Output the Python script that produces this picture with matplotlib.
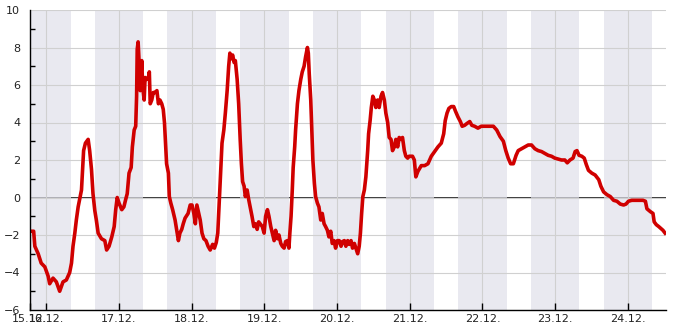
"""Air temperature, 15.12. - 24.12., with night periods shaded."""

import pandas as pd
import matplotlib
matplotlib.use("Agg")
import matplotlib.pyplot as plt
import matplotlib.dates as mdates
from matplotlib.ticker import MultipleLocator, FixedLocator

# hours since 15.12. 00:00 and temperature (°C)
hours = [
    18.6, 19.8, 20.2, 21.3, 22.3, 23.5, 24.6, 25.1, 26.2, 27.3, 28.4, 29.5, 30.6,
    31.7, 32.3, 32.8, 33.4, 33.9, 34.5, 35.0, 35.6, 35.9, 36.3, 36.9, 37.8, 38.3,
    38.9, 39.4, 40.0, 40.5, 41.1, 42.2, 43.3, 43.9, 44.7, 45.6, 46.4, 46.9, 47.4,
    48.0, 48.9, 49.6, 50.2, 50.7, 51.3, 52.0, 52.4, 53.0, 53.5, 53.8, 54.0, 54.3,
    54.7, 55.0, 55.5, 55.8, 56.3, 56.6, 57.1, 57.7, 58.0, 58.3, 58.8, 59.3, 59.9,
    60.5, 61.0, 61.5, 62.1, 62.6, 63.0, 63.3, 63.7, 64.3, 64.6, 65.1, 65.7, 66.5,
    67.0, 67.6, 68.1, 68.7, 69.2, 69.8, 70.8, 71.5, 72.1, 72.7, 73.2, 73.7, 74.3,
    74.8, 75.4, 76.0, 76.7, 77.4, 78.1, 78.9, 79.5, 80.1, 80.6, 80.9, 81.2, 81.6,
    82.0, 82.6, 83.1, 83.7, 84.2, 84.6, 85.1, 85.5, 86.0, 86.4, 87.0, 87.5, 88.0,
    88.4, 88.8, 89.3, 89.7, 90.3, 90.8, 91.3, 91.9, 92.5, 93.0, 93.6, 94.1, 95.3,
    95.9, 96.4, 97.0, 97.5, 98.1, 98.6, 99.2, 99.7, 100.3, 100.8, 101.4, 101.9,
    102.5, 103.0, 103.6, 104.1, 104.4, 104.8, 105.2, 105.5, 106.0, 106.3, 106.9,
    107.4, 108.0, 108.5, 109.1, 109.6, 110.2, 110.5, 110.8, 111.3, 111.6, 112.0,
    112.5, 112.9, 113.5, 114.0, 114.6, 115.1, 115.7, 116.2, 116.8, 117.3, 117.9,
    118.4, 119.0, 119.5, 120.1, 120.7, 121.3, 121.8, 122.4, 122.9, 123.5, 124.0,
    124.6, 125.1, 125.7, 126.2, 126.8, 127.3, 127.7, 128.1, 128.5, 129.0, 129.5,
    130.1, 130.4, 130.9, 131.3, 131.8, 132.3, 132.8, 133.4, 133.9, 134.5, 135.0,
    135.6, 136.1, 136.7, 137.2, 137.8, 138.3, 138.9, 139.4, 140.0, 140.5, 141.1,
    141.6, 142.2, 142.7, 143.3, 143.8, 144.9, 145.5, 146.0, 146.7, 147.8, 148.9,
    150.0, 151.1, 152.2, 153.3, 154.4, 155.2, 155.7, 156.3, 156.9, 157.7, 158.5,
    159.1, 159.9, 160.7, 161.3, 162.1, 162.9, 163.8, 164.5, 165.4, 166.5, 167.6,
    168.7, 169.8, 170.9, 171.6, 172.7, 173.8, 174.9, 175.7, 176.5, 177.3, 178.2,
    179.1, 179.8, 180.9, 182.0, 183.1, 184.2, 185.3, 186.4, 187.5, 188.6, 189.7,
    190.8, 191.9, 193.0, 194.1, 195.2, 196.0, 196.9, 197.9, 198.6, 199.2, 199.9,
    200.8, 201.6, 202.3, 203.0, 204.1, 205.2, 206.4, 207.1, 208.0, 209.1, 210.2,
    211.3, 212.4, 213.5, 214.6, 215.4, 216.2, 217.3, 218.4, 219.6, 221.0, 221.8,
    222.3, 223.4, 224.3, 224.7, 225.4, 226.2, 226.9, 227.6, 228.3,
]
temp = [
    -1.8, -1.8, -2.6, -3.0, -3.5, -3.7, -4.2, -4.6, -4.3, -4.5, -5.0, -4.5, -4.4,
    -4.0, -3.5, -2.6, -1.9, -1.2, -0.5, -0.1, 0.4, 1.3, 2.5, 2.9, 3.1, 2.5,
    1.5, 0.2, -0.7, -1.2, -1.9, -2.2, -2.3, -2.8, -2.6, -2.1, -1.55, -0.65, 0.0,
    -0.3, -0.65, -0.5, -0.1, 0.2, 1.3, 1.6, 2.7, 3.6, 3.8, 5.4, 7.9, 8.3,
    7.0, 5.7, 7.3, 5.9, 5.2, 6.4, 6.3, 6.4, 6.7, 5.0, 5.2, 5.6, 5.6,
    5.7, 5.0, 5.2, 5.0, 4.7, 4.0, 3.1, 1.8, 1.3, 0.05, -0.3, -0.65, -1.2,
    -1.7, -2.3, -1.9, -1.7, -1.4, -1.1, -0.85, -0.4, -0.4, -0.85, -1.4, -0.4, -0.85,
    -1.2, -1.9, -2.2, -2.3, -2.6, -2.8, -2.5, -2.7, -2.4, -1.9, -0.85, 0.2, 1.6,
    2.9, 3.6, 4.5, 5.7, 7.0, 7.7, 7.4, 7.6, 7.2, 7.3, 6.3, 5.0, 3.1,
    1.8, 0.85, 0.6, 0.05, 0.4, -0.1, -0.5, -1.0, -1.55, -1.4, -1.7, -1.3, -1.55,
    -1.9, -1.0, -0.65, -1.0, -1.55, -1.9, -2.3, -1.75, -2.2, -2.0, -2.45, -2.6,
    -2.7, -2.35, -2.3, -2.7, -1.9, -1.0, 0.4, 1.6, 2.7, 3.6, 5.0,
    5.7, 6.3, 6.7, 7.0, 7.5, 8.0, 7.7, 6.6, 5.2, 3.8, 2.0,
    0.75, 0.05, -0.3, -0.5, -1.2, -0.85, -1.4, -1.55, -1.75, -2.1, -1.8,
    -2.45, -2.3, -2.7, -2.3, -2.3, -2.6, -2.35, -2.3, -2.6, -2.3, -2.5,
    -2.3, -2.7, -2.45, -2.7, -3.0, -2.6, -1.9, -0.85, 0.05, 0.4, 1.1,
    2.5, 3.4, 4.1, 4.8, 5.4, 5.2, 4.8, 5.2, 4.8, 5.4, 5.6,
    5.2, 4.5, 4.0, 3.2, 3.1, 2.5, 2.7, 3.1, 2.7, 3.2, 3.1,
    3.2, 2.5, 2.2, 2.1, 2.2, 2.2, 2.0, 1.1, 1.4, 1.7, 1.7,
    1.8, 2.2, 2.45, 2.7, 2.9, 3.4, 4.1, 4.5, 4.75, 4.85, 4.85,
    4.6, 4.3, 4.05, 3.8, 3.85, 3.95, 4.05, 3.85, 3.8, 3.7, 3.8,
    3.8, 3.8, 3.8, 3.8, 3.6, 3.25, 3.0, 2.5, 2.1, 1.8, 1.8,
    2.25, 2.5, 2.6, 2.7, 2.8, 2.8, 2.6, 2.5, 2.45, 2.35, 2.25,
    2.2, 2.1, 2.05, 2.0, 2.0, 1.85, 2.0, 2.1, 2.45, 2.5, 2.25,
    2.2, 2.1, 1.75, 1.45, 1.3, 1.2, 0.95, 0.6, 0.3, 0.15, 0.05,
    -0.15, -0.2, -0.35, -0.4, -0.35, -0.2, -0.15, -0.15, -0.15, -0.15, -0.2,
    -0.6, -0.75, -0.85, -1.3, -1.45, -1.55, -1.65, -1.75, -1.9,
]

start = pd.Timestamp("2023-12-15")
window = (18.6, 228.6)          # visible time span, hours since start
n_days = 9                      # nights 15./16. ... 23./24.
night_from, night_to = 16, 32   # night shading 16:00 -> 08:00 next day

times = start + pd.to_timedelta(hours, unit="h")
t0 = start + pd.Timedelta(hours=window[0])
t1 = start + pd.Timedelta(hours=window[1])

fig = plt.figure(figsize=(6.85, 3.3), dpi=100)
ax = fig.add_axes([30 / 685, 20 / 330, 636 / 685, 300 / 330])

# zero line sits under the night shading (shows grey inside the bands)
ax.axhline(0, color="black", lw=1.1, zorder=0.8)
for d in range(n_days):
    ax.axvspan(start + pd.Timedelta(hours=24 * d + night_from),
               start + pd.Timedelta(hours=24 * d + night_to),
               color="#e1e1eb", alpha=0.7, lw=0, zorder=1)

ax.plot(times, temp, color="#d00000", lw=2.6, zorder=2)

ax.set_xlim(t0, t1)
ax.set_ylim(-6, 10)

day_ticks = [t0] + [start + pd.Timedelta(days=d) for d in range(1, n_days + 1)]
ax.xaxis.set_major_locator(FixedLocator(mdates.date2num(day_ticks)))
ax.xaxis.set_major_formatter(mdates.DateFormatter("%d.%m."))
ax.yaxis.set_major_locator(MultipleLocator(2))
ax.yaxis.set_minor_locator(MultipleLocator(1))

ax.set_axisbelow("line")
ax.grid(True, which="major", color="#d0d0d0", lw=0.8)

ax.tick_params(axis="x", which="major", direction="in", length=5, width=1,
               color="black", pad=3, labelsize=8, labelcolor="#222222")
ax.tick_params(axis="y", which="major", length=0, pad=7,
               labelsize=8, labelcolor="#222222")
ax.tick_params(axis="y", which="minor", direction="in", length=3.5, width=1,
               color="black")

for side in ("top", "right"):
    ax.spines[side].set_visible(False)
for side in ("left", "bottom"):
    ax.spines[side].set_color("black")
    ax.spines[side].set_linewidth(1)

fig.savefig("out.png", dpi=100)
